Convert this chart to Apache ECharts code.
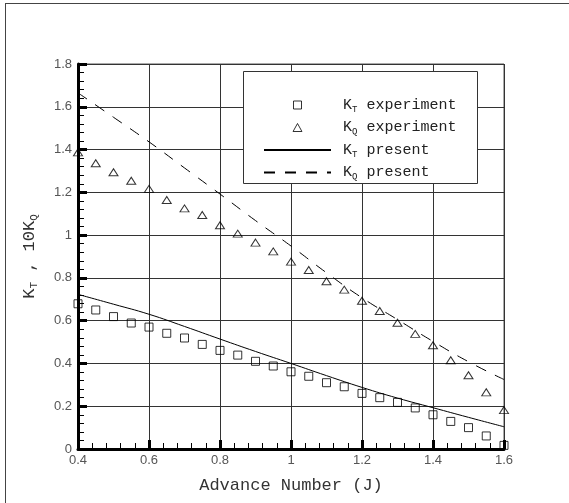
<!DOCTYPE html>
<html>
<head>
<meta charset="utf-8">
<script src="https://cdn.jsdelivr.net/npm/echarts@6/dist/echarts.min.js"></script>
<style>
html,body{margin:0;padding:0;background:#fff;}
#chart{width:569px;height:503px;}
</style>
</head>
<body>
<div id="chart"></div>
<script>
// Advance number J for experimental points
var expJ = [0.40,0.45,0.50,0.55,0.60,0.65,0.70,0.75,0.80,0.85,0.90,0.95,1.00,1.05,1.10,1.15,1.20,1.25,1.30,1.35,1.40,1.45,1.50,1.55,1.60];
// KT experiment
var ktExp = [0.679,0.650,0.619,0.589,0.570,0.541,0.519,0.489,0.461,0.439,0.410,0.388,0.361,0.340,0.310,0.291,0.260,0.240,0.218,0.192,0.160,0.129,0.100,0.061,0.017];
// 10KQ experiment
var kqExp = [1.387,1.336,1.294,1.254,1.216,1.164,1.125,1.094,1.046,1.007,0.965,0.924,0.876,0.837,0.784,0.745,0.693,0.645,0.590,0.538,0.485,0.415,0.345,0.265,0.182];
// Advance number J for computed curves
var presentJ = [0.4,0.5,0.6,0.7,0.8,0.9,1.0,1.1,1.2,1.3,1.4,1.5,1.6];
// KT present
var ktPresent = [0.723,0.677,0.630,0.573,0.514,0.456,0.400,0.343,0.288,0.238,0.193,0.148,0.104];
// 10KQ present
var kqPresent = [1.665,1.551,1.436,1.314,1.192,1.068,0.949,0.824,0.707,0.605,0.503,0.408,0.325];
// tick labels
var xTickLabels = ['0.4','0.6','0.8','1','1.2','1.4','1.6'];
var yTickLabels = ['0','0.2','0.4','0.6','0.8','1','1.2','1.4','1.6','1.8'];
var seriesNames = ['KT experiment','KQ experiment','KT present','KQ present'];

function pairs(xs, ys){ return xs.map(function(x,i){ return [x, ys[i]]; }); }

var MONO = "'Liberation Mono','DejaVu Sans Mono',monospace";
var SANS = "'Liberation Sans',Arial,sans-serif";

var legendRich = {
  k: {fontFamily: MONO, fontSize: 15, color: '#222', lineHeight: 14, padding: [0,0,0,7]},
  s: {fontFamily: MONO, fontSize: 9, color: '#222', lineHeight: 14, padding: [9,0,0,0]},
  t: {fontFamily: MONO, fontSize: 15, color: '#222', lineHeight: 14}
};
var nameRich = {
  k: {fontFamily: MONO, fontSize: 17, color: '#333', lineHeight: 18},
  s: {fontFamily: MONO, fontSize: 11, color: '#333', lineHeight: 18, padding: [10,0,0,0]}
};

var chart = echarts.init(document.getElementById('chart'), null, {renderer: 'canvas'});
var hollow = {color: 'rgba(0,0,0,0)', borderColor: '#000', borderWidth: 1};
var legendIconStyle = {color: '#fff', borderColor: '#000', borderWidth: 1};
var noSymbol = {color: 'rgba(0,0,0,0)', borderColor: 'rgba(0,0,0,0)', borderWidth: 0, opacity: 0};

chart.setOption({
  animation: false,
  backgroundColor: '#fff',
  grid: {left: 78, right: 65, top: 64, bottom: 54, show: true, borderColor: '#555', borderWidth: 1, backgroundColor: 'rgba(0,0,0,0)'},
  graphic: [
    {type: 'line', z: 1, shape: {x1: 5, y1: 3.5, x2: 569, y2: 3.5}, style: {stroke: '#444', lineWidth: 1}},
    {type: 'line', z: 1, shape: {x1: 5.5, y1: 3, x2: 5.5, y2: 503}, style: {stroke: '#444', lineWidth: 1}},
    {type: 'rect', z: 3, shape: {x: 243.5, y: 71.5, width: 234, height: 112}, style: {fill: '#fff', stroke: '#333', lineWidth: 1}}
  ],
  legend: {
    orient: 'vertical', left: 263, top: 96, padding: 0, z: 10,
    itemWidth: 67, itemHeight: 8, itemGap: 4.5,
    data: [
      {name: seriesNames[0], icon: 'path://M0,0L10,0L10,10L0,10Z', itemStyle: legendIconStyle},
      {name: seriesNames[1], icon: 'path://M5,0L10,9L0,9Z', itemStyle: legendIconStyle},
      {name: seriesNames[2], itemStyle: noSymbol},
      {name: seriesNames[3], itemStyle: noSymbol}
    ],
    formatter: function(name){
      var parts = name.split(' ');
      return '{k|K}{s|' + parts[0].charAt(1) + '}{t| ' + parts[1] + '}';
    },
    textStyle: {rich: legendRich}
  },
  xAxis: {
    type: 'value', min: 0.4, max: 1.6, interval: 0.2,
    name: 'Advance Number (J)', nameLocation: 'middle', nameGap: 28,
    nameTextStyle: {fontFamily: MONO, fontSize: 17, color: '#333'},
    axisLine: {show: true, lineStyle: {color: '#000', width: 3}},
    axisTick: {show: true, inside: true, length: 9, lineStyle: {color: '#000', width: 3}},
    minorTick: {show: true, splitNumber: 5, length: 6, lineStyle: {color: '#000', width: 1}},
    axisLabel: {fontFamily: SANS, fontSize: 13, color: '#555', margin: 5,
      formatter: function(v, i){ return xTickLabels[i]; }},
    splitLine: {show: true, lineStyle: {color: '#333', width: 1}}
  },
  yAxis: {
    type: 'value', min: 0, max: 1.8, interval: 0.2,
    name: '{k|K}{s|T}{k| , 10K}{s|Q}', nameLocation: 'middle', nameGap: 40, nameRotate: 90,
    nameTextStyle: {fontFamily: MONO, fontSize: 17, color: '#333', rich: nameRich},
    axisLine: {show: true, lineStyle: {color: '#000', width: 3}},
    axisTick: {show: true, inside: true, length: 9, lineStyle: {color: '#000', width: 3}},
    minorTick: {show: true, splitNumber: 5, length: 6, lineStyle: {color: '#000', width: 1}},
    axisLabel: {fontFamily: SANS, fontSize: 13, color: '#555', margin: 6,
      formatter: function(v, i){ return yTickLabels[i]; }},
    splitLine: {show: true, lineStyle: {color: '#333', width: 1}}
  },
  series: [
    {name: seriesNames[0], type: 'scatter', symbol: 'rect', symbolSize: 8, itemStyle: hollow, data: pairs(expJ, ktExp), z: 4},
    {name: seriesNames[1], type: 'scatter', symbol: 'triangle', symbolSize: [9, 7], itemStyle: hollow, data: pairs(expJ, kqExp), z: 4},
    {name: seriesNames[2], type: 'line', symbol: 'none', smooth: true, lineStyle: {color: '#000', width: 1, type: 'solid'}, itemStyle: {color: '#000'}, data: pairs(presentJ, ktPresent), z: 4},
    {name: seriesNames[3], type: 'line', symbol: 'none', smooth: true, lineStyle: {color: '#000', width: 1, type: [11, 10]}, itemStyle: {color: '#000'}, data: pairs(presentJ, kqPresent), z: 4}
  ]
});
</script>
</body>
</html>
